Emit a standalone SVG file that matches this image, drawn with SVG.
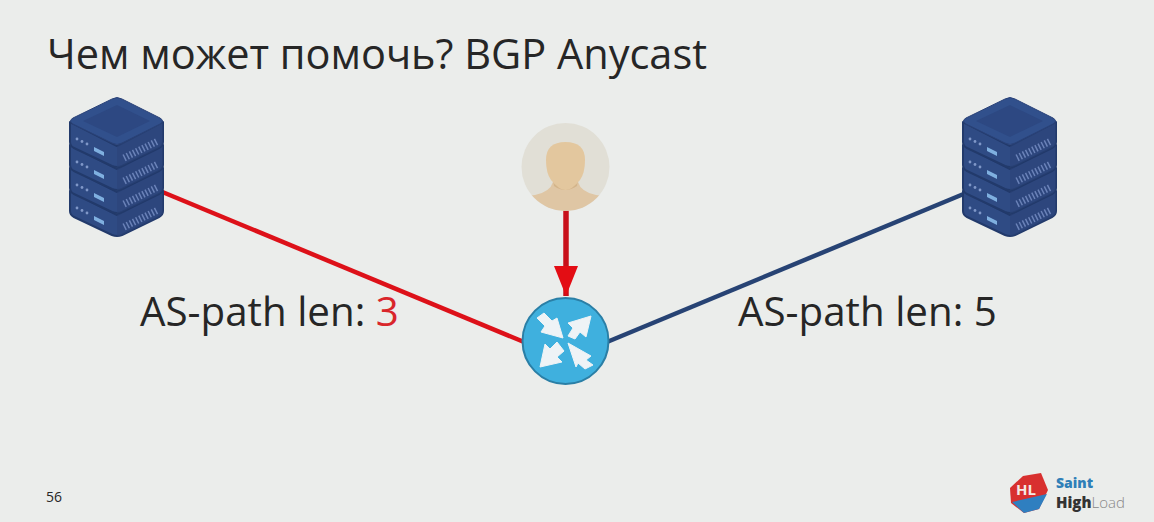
<svg xmlns="http://www.w3.org/2000/svg" xmlns:xlink="http://www.w3.org/1999/xlink" width="1154" height="522" viewBox="0 0 1154 522">
<style>
text{font-family:"Open Sans","Noto Sans","DejaVu Sans",sans-serif;fill:#262626}
.title{font-size:41.500px}
.lab{font-size:40.300px}
.body{fill:#2f4b84;stroke:#223a6b;stroke-width:2;stroke-linejoin:round}
.top{fill:#31508c;stroke:#2a4278;stroke-width:1;stroke-linejoin:round}
.side{fill:#2b4479}
.led{fill:#7f97c8}
.blue{fill:#7fb0e0}
.arrow{fill:#eef3f6;stroke:#eef3f6;stroke-width:1;stroke-linejoin:round}
</style>
<defs>
<g id="layer">
<path class="body" d="M70 122 L117 146 L163 122 V142 Q163 146 159 148 L122 166 Q117 168 112 166 L74 148 Q70 146 70 142 Z"/>
<path class="side" d="M117 146 L163 122 V142 Q163 146 159 148 L122 166 Q117 168 117 167 Z" opacity=".55"/>
<circle class="led" cx="77" cy="139" r="1.400"/><circle class="led" cx="82" cy="141.500" r="1.400"/><circle class="led" cx="87" cy="144" r="1.400"/>
<path class="blue" d="M94 147 L104 152 V156 L94 151 Z"/>
<path d="M124 158 L158 141" stroke="#6a82b8" stroke-width="7" stroke-dasharray="1.500 2" fill="none"/>
</g>
<g id="server">
<use href="#layer" xlink:href="#layer" y="69"/>
<use href="#layer" xlink:href="#layer" y="46"/>
<use href="#layer" xlink:href="#layer" y="23"/>
<use href="#layer" xlink:href="#layer"/>
<path class="top" d="M112 99 Q117 96 122 99 L160 118 Q165 121 160 124 L122 143 Q117 146 112 143 L73 124 Q68 121 73 118 Z"/>
<path d="M117 105 L150 121 L117 137 L83 121 Z" fill="#2d4882"/>
</g>
<marker id="head" viewBox="0 0 30 24" refX="30" refY="12" markerUnits="userSpaceOnUse" markerWidth="30" markerHeight="24" orient="auto"><path d="M0 0 L30 12 L0 24 Z" fill="#e30d14"/></marker>
<clipPath id="uclip"><circle cx="565.500" cy="167" r="44"/></clipPath>
</defs>
<rect width="1154" height="522" fill="#ebedeb"/>
<text class="title" x="47" y="69">Чем может помочь? BGP Anycast</text>
<g id="connectors" fill="none">
<path d="M160 191 L524 342" stroke="#dd1119" stroke-width="4.500"/>
<path d="M607 342 L966 193" stroke="#274374" stroke-width="4.500"/>
<path d="M566 210 V296" stroke="#c8101a" stroke-width="5.500" marker-end="url(#head)"/>
</g>
<g id="server-left"><use href="#server" xlink:href="#server"/></g>
<g id="server-right"><use href="#server" xlink:href="#server" x="893"/></g>
<g id="user">
<circle cx="565.500" cy="167" r="44" fill="#e1dfd6"/>
<g clip-path="url(#uclip)">
<path d="M515 198 L535 195 Q550 192 553 182 L578 182 Q581 192 596 195 L616 198 V215 H515 Z" fill="#dfc6a4"/>
<path d="M553 180 L578 180 L577 186 Q565 194 554 186 Z" fill="#d3b48a"/>
<path d="M546 160 Q546 142 565.500 142 Q585 142 585 160 Q585 173 580 180 Q572 190 565.500 190 Q559 190 551 180 Q546 173 546 160 Z" fill="#e3c79e"/>
</g>
</g>
<g id="router">
<circle cx="565.500" cy="341" r="43" fill="#3fb0de" stroke="#2a7fa6" stroke-width="2"/>
<g class="arrow">
<path d="M537 318 L544 313 L552 321 L557 318 L563 338 L541 332 L545 326 Z"/>
<path d="M591 316 L586 337 L580 332 L575 339 L568 336 L573 328 L568 323 Z"/>
<path d="M540 367 L545 344 L550 349 L557 342 L564 351 L557 357 L562 362 Z"/>
<path d="M568 343 L591 356 L586 360 L593 365 L585 369 L578 363 L576 367 Z"/>
</g>
</g>
<g id="labels">
<text class="lab" x="140" y="326">AS-path len: <tspan fill="#d9262b">3</tspan></text>
<text class="lab" x="738" y="326">AS-path len: 5</text>
<text x="46" y="502" font-size="14">56</text>
</g>
<g id="logo">
<path d="M1023 476 L1041 473 L1048 490 L1039 509 L1024 513 L1011 503 L1010 488 Z" fill="#d8302f"/>
<path d="M1012 502 L1047 494 L1039 509 L1024 513 Z" fill="#2f7fc0"/>
<text x="1016" y="495" font-size="15" font-weight="700" style="fill:#f4e9e6">HL</text>
<text x="1056" y="487.500" font-size="14" font-weight="800" style="fill:#2f7fb8">Saint</text>
<text x="1056" y="508" font-size="15" font-weight="800" style="fill:#333">High<tspan font-weight="300" style="fill:#888">Load</tspan></text>
</g>
</svg>
